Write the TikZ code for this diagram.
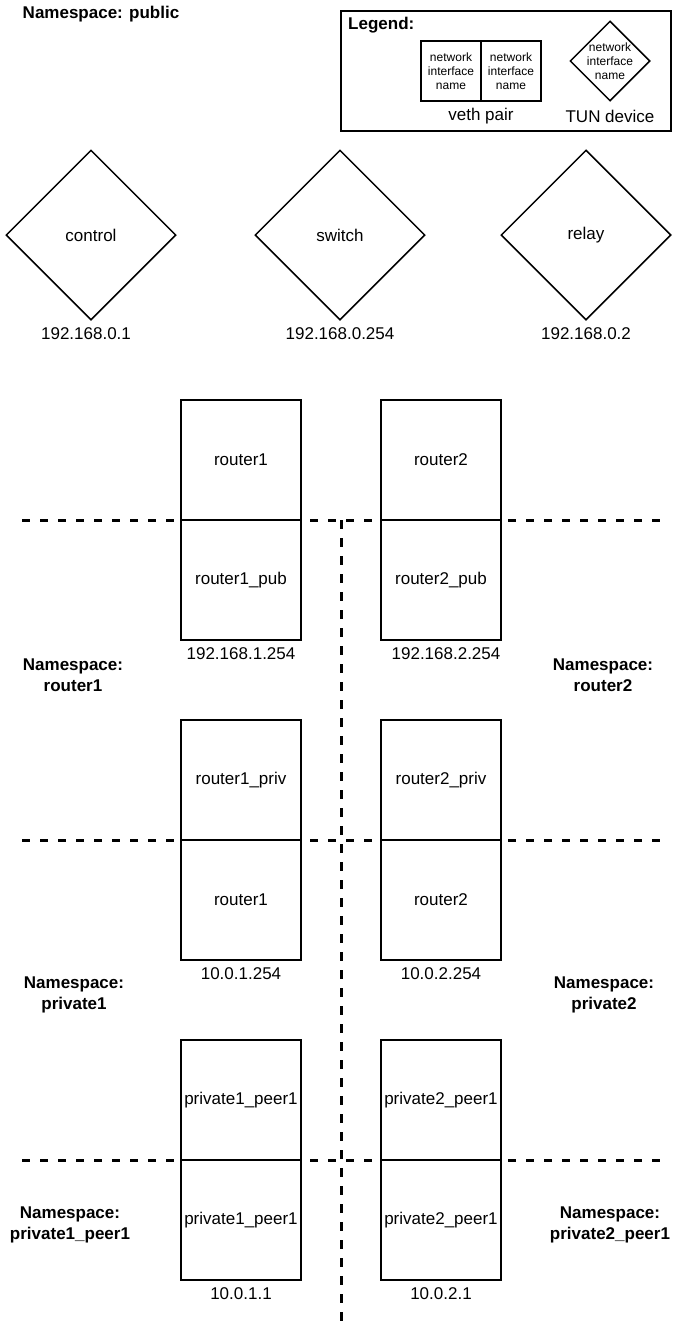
\documentclass[tikz,border=0pt]{standalone}
\usepackage{fontspec}
\setmainfont{Liberation Sans}
\usetikzlibrary{shapes.geometric}
\begin{document}
\begin{tikzpicture}[x=1pt,y=-1pt,
  txt/.style={font=\fontsize{17}{20.5}\selectfont, inner sep=0pt, align=center},
  ns/.style={font=\fontsize{17}{21}\selectfont\bfseries, inner sep=0pt, align=center},
  small/.style={font=\fontsize{12}{14}\selectfont, inner sep=0pt, align=center},
  ifbox/.style={draw, fill=white, line width=1.5pt, minimum width=120pt, minimum height=120pt, inner sep=0pt, font=\fontsize{17}{20.5}\selectfont},
  legbox/.style={draw, fill=white, line width=1.5pt, minimum width=60pt, minimum height=60pt, inner sep=0pt},
  tun/.style={draw, diamond, aspect=1, line width=1.5pt, minimum width=170pt, minimum height=170pt, inner sep=0pt, font=\fontsize{17}{20.5}\selectfont},
  sep/.style={line width=3pt, dash pattern=on 8pt off 10pt},
  vsep/.style={line width=3pt, dash pattern=on 9pt off 9pt}
]
\useasboundingbox (0,0) rectangle (680,1323);

% title
\node[ns] (nspub) at (101,14) {Namespace: public};

% legend
\node[draw, line width=1.5pt, minimum width=330pt, minimum height=120pt, inner sep=0pt] (legend) at (506,71) {};
\node[ns, anchor=west] (legt) at (348,25) {Legend:};
\node[legbox] (lv1) at (451,71) {};
\node[legbox] (lv2) at (511,71) {};
\node[small] (lv1t) at (451,71) {network\\interface\\name};
\node[small] (lv2t) at (511,71) {network\\interface\\name};
\node[txt] (vethlbl) at (481,116) {veth pair};
\node[draw, diamond, aspect=1, line width=1.5pt, minimum width=80pt, minimum height=80pt, inner sep=0pt] (ltun) at (610,61) {};
\node[small] (ltunt) at (610,61) {network\\interface\\name};
\node[txt] (tunlbl) at (610,116) {TUN device};

% TUN devices
\node[tun] (control) at (91,235) {control};
\node[tun] (switch) at (340,235) {switch};
\node[tun] (relay) at (586,235) {relay};
\node[txt] (controlip) at (86,334) {192.168.0.1};
\node[txt] (switchip) at (340,334) {192.168.0.254};
\node[txt] (relayip) at (586,334) {192.168.0.2};

% separators
\coordinate (h1a) at (22,520); \coordinate (h1b) at (662,520);
\coordinate (h2a) at (22,840); \coordinate (h2b) at (662,840);
\coordinate (h3a) at (22,1160); \coordinate (h3b) at (662,1160);
\coordinate (va) at (341,520); \coordinate (vb) at (341,1323);
\draw[sep] (h1a) -- (h1b);
\draw[sep] (h2a) -- (h2b);
\draw[sep] (h3a) -- (h3b);
\draw[vsep] (va) -- (vb);

% veth pairs
\node[ifbox] (r1) at (241,460) {router1};
\node[ifbox] (r1pub) at (241,580) {router1\_pub};
\node[ifbox] (r2) at (441,460) {router2};
\node[ifbox] (r2pub) at (441,580) {router2\_pub};
\node[txt] (r1pubip) at (241,654) {192.168.1.254};
\node[txt] (r2pubip) at (446,654) {192.168.2.254};

\node[ifbox] (r1priv) at (241,780) {router1\_priv};
\node[ifbox] (r1b) at (241,900) {router1};
\node[ifbox] (r2priv) at (441,780) {router2\_priv};
\node[ifbox] (r2b) at (441,900) {router2};
\node[txt] (r1ip) at (241,974) {10.0.1.254};
\node[txt] (r2ip) at (441,974) {10.0.2.254};

\node[ifbox] (p1a) at (241,1100) {private1\_peer1};
\node[ifbox] (p1b) at (241,1220) {private1\_peer1};
\node[ifbox] (p2a) at (441,1100) {private2\_peer1};
\node[ifbox] (p2b) at (441,1220) {private2\_peer1};
\node[txt] (p1ip) at (241,1294) {10.0.1.1};
\node[txt] (p2ip) at (441,1294) {10.0.2.1};

% namespace labels
\node[ns] (nsr1) at (73,675) {Namespace:\\router1};
\node[ns] (nsr2) at (603,675) {Namespace:\\router2};
\node[ns] (nsp1) at (74,995) {Namespace:\\private1};
\node[ns] (nsp2) at (604,995) {Namespace:\\private2};
\node[ns] (nsp1p) at (70,1225) {Namespace:\\private1\_peer1};
\node[ns] (nsp2p) at (610,1225) {Namespace:\\private2\_peer1};
\end{tikzpicture}
\end{document}
